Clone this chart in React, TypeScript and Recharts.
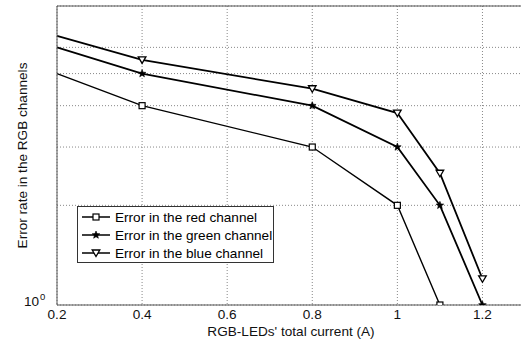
import React from "react"
import {
  LineChart,
  Line,
  XAxis,
  YAxis,
  CartesianGrid,
  ReferenceLine,
  Legend,
} from "recharts"

const current = [0.2, 0.4, 0.8, 1.0, 1.1, 1.2]
const redErr = [5, 4, 3, 2, 1]
const greenErr = [6, 5, 4, 3, 2, 1]
const blueErr = [6.5, 5.5, 4.5, 3.8, 2.5, 1.2]

const xTicks = [0.2, 0.4, 0.6, 0.8, 1, 1.2]
const yTicks = [1, 2, 3, 4, 5, 6, 7, 8]

const seriesNames = [
  "Error in the red channel",
  "Error in the green channel",
  "Error in the blue channel",
]

const data = current.map((x, i) => ({
  x,
  red: redErr[i],
  green: greenErr[i],
  blue: blueErr[i],
}))

const FONT = "'Liberation Sans', Arial, sans-serif"
const FS = 13.6
const AXIS = "#555"

type Shape = "square" | "star" | "tri"

function Marker({ shape, cx, cy }: { shape: Shape; cx: number; cy: number }) {
  if (shape === "square")
    return <rect x={cx - 3} y={cy - 3} width={6} height={6} fill="#fff" stroke="#000" strokeWidth={1.2} />
  if (shape === "tri")
    return (
      <polygon
        points={`${cx - 3.8},${cy - 3} ${cx + 3.8},${cy - 3} ${cx},${cy + 3.5}`}
        fill="#fff"
        stroke="#000"
        strokeWidth={1.3}
      />
    )
  const pts: string[] = []
  for (let k = 0; k < 10; k++) {
    const r = k % 2 === 0 ? 4 : 1.7
    const a = -Math.PI / 2 + (k * Math.PI) / 5
    pts.push(`${cx + r * Math.cos(a)},${cy + r * Math.sin(a)}`)
  }
  return <polygon points={pts.join(" ")} fill="#000" stroke="#000" strokeWidth={0.6} />
}

function dotFor(shape: Shape) {
  return (p: any) => {
    if (p.index === 0 || p.cy == null || p.value == null) return <g key={p.key} />
    return (
      <g key={p.key}>
        <Marker shape={shape} cx={p.cx} cy={p.cy} />
      </g>
    )
  }
}

function YTick({ x, y, payload }: any) {
  if (payload.value !== 1) return <g />
  return (
    <g fontFamily={FONT} fill="#111">
      <text x={x - 10} y={y + 1} textAnchor="end" fontSize={FS}>10</text>
      <text x={x - 9} y={y - 5} fontSize={9.5}>0</text>
    </g>
  )
}

const shapes: Shape[] = ["square", "star", "tri"]

function LegendBox() {
  return (
    <div
      style={{
        border: "1px solid #333",
        background: "#fff",
        padding: "1px 0 0 0",
        width: 195,
        fontFamily: FONT,
        fontSize: FS,
        color: "#000",
      }}
    >
      {seriesNames.map((name, i) => (
        <div key={name} style={{ display: "flex", alignItems: "center", height: 18 }}>
          <svg width={37} height={18} style={{ flexShrink: 0 }}>
            <line x1={4} y1={9} x2={32} y2={9} stroke="#000" strokeWidth={1.5} />
            <Marker shape={shapes[i]} cx={18} cy={9} />
          </svg>
          <span style={{ whiteSpace: "nowrap" }}>{name}</span>
        </div>
      ))}
    </div>
  )
}

export default function App() {
  return (
    <div
      style={{
        position: "absolute",
        left: 0,
        top: 0,
        width: 521,
        height: 343,
        overflow: "hidden",
        background: "#fff",
      }}
    >
      <LineChart width={525} height={343} data={data} margin={{ top: 6, right: 0, bottom: 0, left: 0 }}>
        <CartesianGrid stroke="#888" strokeDasharray="1 2" />
        <XAxis
          dataKey="x"
          type="number"
          domain={[0.2, 1.3]}
          ticks={xTicks}
          height={38}
          tickSize={2}
          tickMargin={2}
          tickLine={false}
          stroke={AXIS}
          tick={{ fill: "#111", fontSize: FS, fontFamily: FONT }}
          label={{
            value: "RGB-LEDs' total current (A)",
            position: "insideBottom",
            offset: 7,
            style: { fill: "#111", fontSize: FS, fontFamily: FONT },
          }}
        />
        <YAxis
          scale="log"
          domain={[1, 8]}
          ticks={yTicks}
          allowDataOverflow
          width={57}
          tickLine={false}
          stroke={AXIS}
          tick={<YTick />}
          label={{
            value: "Error rate in the RGB channels",
            angle: -90,
            position: "insideLeft",
            offset: 22,
            style: { textAnchor: "middle", fill: "#111", fontSize: FS, fontFamily: FONT },
          }}
        />
        <ReferenceLine y={8} stroke={AXIS} strokeWidth={1} />
        <Line
          dataKey="red"
          stroke="#000"
          strokeWidth={1.4}
          dot={dotFor("square")}
          isAnimationActive={false}
          legendType="none"
        />
        <Line
          dataKey="green"
          stroke="#000"
          strokeWidth={1.8}
          dot={dotFor("star")}
          isAnimationActive={false}
          legendType="none"
        />
        <Line
          dataKey="blue"
          stroke="#000"
          strokeWidth={1.8}
          dot={dotFor("tri")}
          isAnimationActive={false}
          legendType="none"
        />
        <Legend
          layout="horizontal"
          verticalAlign="middle"
          align="center"
          content={() => <LegendBox />}
          wrapperStyle={{ position: "absolute", left: 77, top: 206, width: "auto", height: "auto" }}
        />
      </LineChart>
    </div>
  )
}
